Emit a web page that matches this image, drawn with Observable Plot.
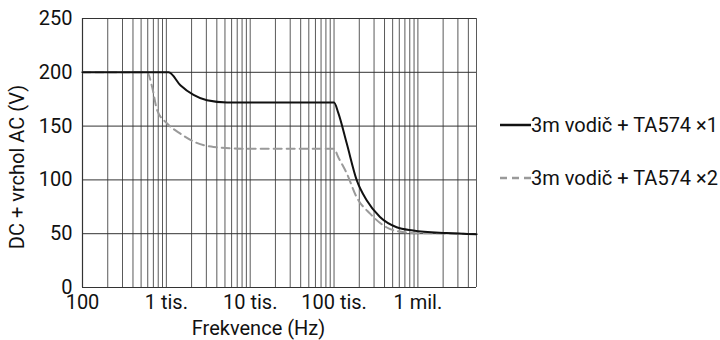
<!DOCTYPE html>
<html>
<head>
<meta charset="utf-8">
<script src="https://cdn.jsdelivr.net/npm/d3@7"></script>
<script src="https://cdn.jsdelivr.net/npm/@observablehq/plot@0.6"></script>
<style>
  body { margin: 0; background: #fff; font-family: Roboto, sans-serif; }
  #wrap { position: relative; width: 720px; height: 340px; }
  .leg { position: absolute; left: 500px; display: flex; align-items: center; font-size: 20px; color: #111; white-space: nowrap; }
  .leg svg { display: block; }
</style>
</head>
<body>
<div id="wrap"></div>
<script>
const xDomain = [100, 5000000];
const yTicks = [0, 50, 100, 150, 200, 250];
const xTickValues = [100, 1000, 10000, 100000, 1000000];
const xTickLabels = ["100", "1 tis.", "10 tis.", "100 tis.", "1 mil."];
const seriesNames = ["3m vodič + TA574 ×1", "3m vodič + TA574 ×2"];

const freq1 = [100, 1065, 1470, 2110, 3050, 5300, 20000, 100000, 112600, 141600, 186000, 245000, 353000, 558000, 879000, 2200000, 5000000];
const volt1 = [200, 200, 188, 179, 174, 172, 172, 172, 162, 134, 100, 81, 65.5, 56, 53, 50.6, 49.5];

const freq2 = [100, 590, 676, 775, 1020, 1470, 2300, 3650, 9100, 30000, 100000, 112000, 142000, 186000, 269000, 420000, 660000, 1000000, 2200000, 5000000];
const volt2 = [200, 200, 186.5, 165, 152.5, 143, 134.4, 130.6, 129, 129, 129, 121.3, 106, 84, 68.6, 56, 51.5, 50.5, 50.2, 49.5];

const data1 = freq1.map((f, i) => ({f, v: volt1[i]}));
const data2 = freq2.map((f, i) => ({f, v: volt2[i]}));
const labelMap = new Map(xTickValues.map((v, i) => [v, xTickLabels[i]]));
const minorTicks = d3.scaleLog().domain(xDomain).ticks();

const chart = Plot.plot({
  width: 720,
  height: 340,
  marginLeft: 82,
  marginRight: 244,
  marginTop: 18,
  marginBottom: 53,
  style: { fontFamily: "Roboto, sans-serif", fontSize: "20px", color: "#111", background: "#fff" },
  x: { type: "log", domain: xDomain },
  y: { domain: [0, 250] },
  marks: [
    Plot.ruleX(minorTicks, { stroke: "#5a5a5a", strokeWidth: 1 }),
    Plot.ruleY(yTicks, { stroke: "#333", strokeWidth: 1 }),
    Plot.ruleX([xDomain[0]], { stroke: "#333", strokeWidth: 1.2 }),
    Plot.ruleY([0], { stroke: "#333", strokeWidth: 1.2 }),
    Plot.axisX(xTickValues, { tickSize: 0, tickPadding: 7, tickFormat: d => labelMap.get(d), label: null, fontSize: 20 }),
    Plot.axisY(yTicks, { tickSize: 0, tickPadding: 10, label: null, fontSize: 20 }),
    Plot.line(data2, { x: "f", y: "v", stroke: "#9a9a9a", strokeWidth: 2, strokeDasharray: "8,5", curve: "monotone-x" }),
    Plot.line(data1, { x: "f", y: "v", stroke: "#111", strokeWidth: 2, curve: "monotone-x" }),
    Plot.text(["Frekvence (Hz)"], { frameAnchor: "bottom", lineAnchor: "middle", textAnchor: "middle", dy: 41, dx: -21, fontSize: 20, fill: "#111" }),
    Plot.text(["DC + vrchol AC (V)"], { frameAnchor: "left", textAnchor: "middle", lineAnchor: "middle", dx: -65, dy: 14, rotate: -90, fontSize: 20, fill: "#111" })
  ]
});

const wrap = document.getElementById("wrap");
wrap.appendChild(chart);

const legendItems = [
  { name: seriesNames[0], color: "#111", dash: null, top: 113 },
  { name: seriesNames[1], color: "#9a9a9a", dash: "7,5", top: 166 }
];
for (const it of legendItems) {
  const div = document.createElement("div");
  div.className = "leg";
  div.style.top = it.top + "px";
  const sw = d3.create("svg").attr("width", 31).attr("height", 24);
  sw.append("line").attr("x1", 0).attr("x2", 31).attr("y1", 12).attr("y2", 12)
    .attr("stroke", it.color).attr("stroke-width", 2.5)
    .attr("stroke-dasharray", it.dash);
  div.appendChild(sw.node());
  const span = document.createElement("span");
  span.textContent = it.name;
  div.appendChild(span);
  wrap.appendChild(div);
}
</script>
</body>
</html>
